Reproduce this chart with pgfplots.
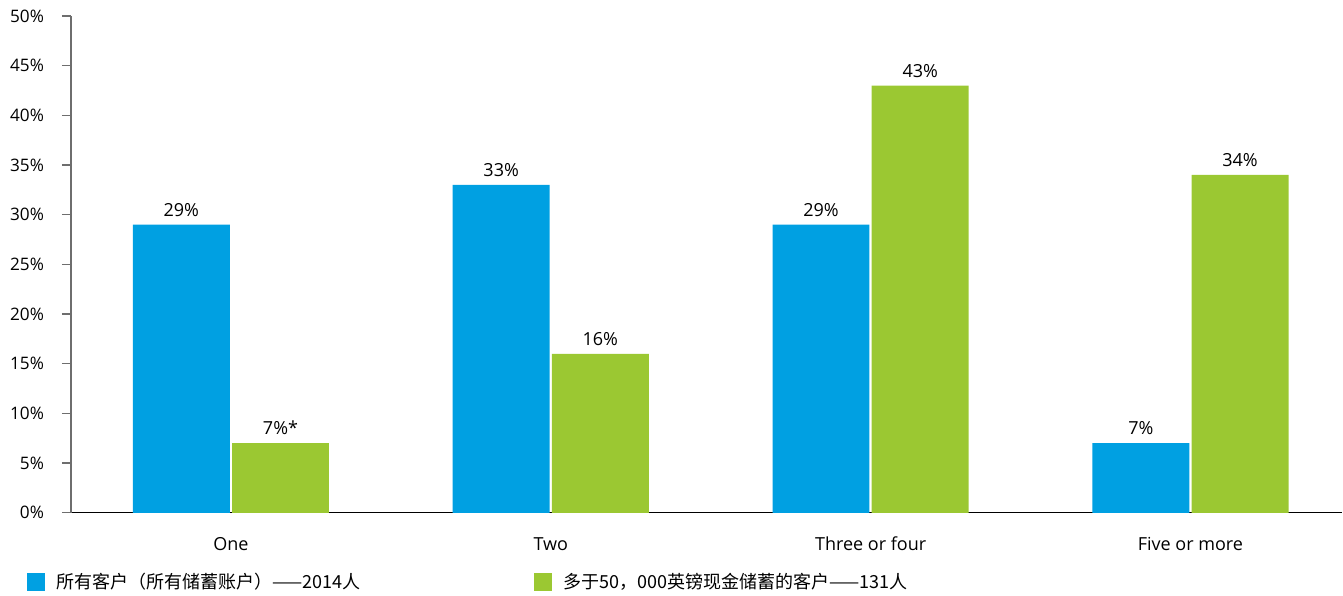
\documentclass[border=0pt]{standalone}
\usepackage{pgfplots}
\pgfplotsset{compat=1.18}
\usepackage{fontspec}
\setmainfont{Open Sans}
\newfontfamily\cjk{Noto Sans CJK SC}
\definecolor{cblue}{RGB}{0,160,226}
\definecolor{cgreen}{RGB}{155,200,50}
\definecolor{axgray}{RGB}{110,110,110}
\begin{document}
\begin{tikzpicture}
\begin{axis}[
  scale only axis, width=636pt, height=248.5pt,
  xmin=-0.5, xmax=3.475, ymin=0, ymax=50,
  axis lines*=left,
  x axis line style={black, line width=0.6pt},
  y axis line style={axgray, line width=0.6pt},
  ytick={0,5,...,50},
  yticklabel={\pgfmathprintnumber{\tick}\%},
  /pgf/number format/assume math mode=true,
  ytick style={axgray, line width=0.6pt},
  tick align=outside, major tick length=4.5pt,
  yticklabel style={font=\fontsize{8.6}{10}\selectfont, xshift=-5.5pt},
  xtick={0,1,2,3},
  xticklabels={One,Two,Three or four,Five or more},
  xtick style={draw=none},
  xticklabel style={font=\fontsize{9}{10}\selectfont, text height=7pt, text depth=2pt, yshift=-4pt},
  ybar, bar width=0.303,
  nodes near coords={\pgfplotspointmeta},
  point meta=explicit symbolic,
  every node near coord/.append style={font=\fontsize{9}{10}\selectfont, black, yshift=0.5pt},
  legend style={at={(0,0)}, anchor=north west, xshift=-22pt, yshift=-28pt,
    draw=none, inner sep=0pt, font=\cjk\fontsize{9}{10}\selectfont,
    /tikz/every even column/.append style={column sep=85pt},
    /tikz/every odd column/.append style={column sep=3.5pt}},
  legend columns=2,
  legend cell align=left,
  legend image code/.code={\fill[#1] (0pt,-4.5pt) rectangle (9pt,4.5pt);},
]
\addplot[fill=cblue, draw=none, bar shift=-0.155] coordinates {
  (0,29) [29\%]
  (1,33) [33\%]
  (2,29) [29\%]
  (3,7) [7\%]
};
\addlegendentry{所有客户（所有储蓄账户）——2014人}
\addplot[fill=cgreen, draw=none, bar shift=0.155] coordinates {
  (0,7) [7\%*]
  (1,16) [16\%]
  (2,43) [43\%]
  (3,34) [34\%]
};
\addlegendentry{多于50，000英镑现金储蓄的客户——131人}
\end{axis}
\path (current axis.south west) ++(-35.5pt,0pt);
\path (current axis.north west) ++(0pt,8pt);
\end{tikzpicture}
\end{document}
